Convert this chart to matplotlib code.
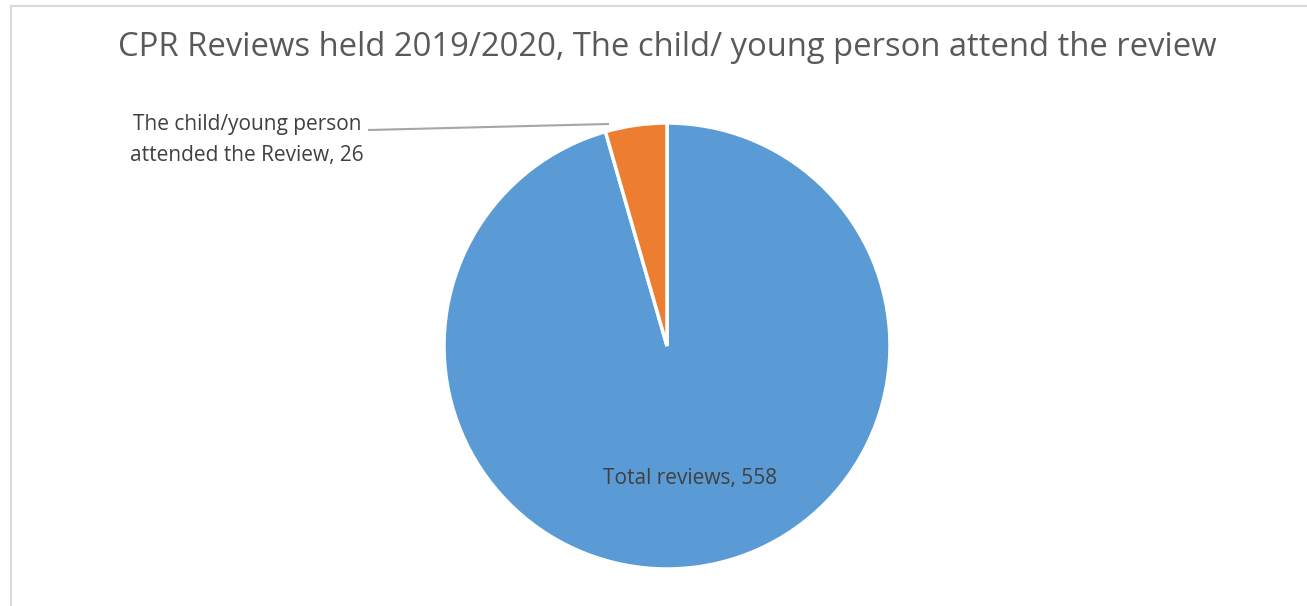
import numpy as np
import matplotlib.pyplot as plt

labels = ['Total reviews', 'The child/young person\nattended the Review']
values = [558, 26]
colors = ['#5B9BD5', '#ED7D31']
title = 'CPR Reviews held 2019/2020, The child/ young person attend the review'

plt.rcParams['font.family'] = ['Open Sans', 'DejaVu Sans']

W, H = 1307, 606
fig = plt.figure(figsize=(W / 100, H / 100), dpi=100)

# chart border: only top and left edges fall inside the picture
fig.add_artist(plt.Line2D([11 / W, 11 / W], [0, 1 - 6 / H], color='#D9D9D9',
                          linewidth=1.5, transform=fig.transFigure))
fig.add_artist(plt.Line2D([11 / W, 1], [1 - 6 / H, 1 - 6 / H], color='#D9D9D9',
                          linewidth=1.5, transform=fig.transFigure))

cx, cy, r = 667, H - 346, 223
ax = fig.add_axes([(cx - r) / W, (cy - r) / H, 2 * r / W, 2 * r / H])
wedges, _ = ax.pie(values, colors=colors, startangle=90, counterclock=False,
                   wedgeprops=dict(edgecolor='white', linewidth=2.5))
ax.set_xlim(-1, 1)
ax.set_ylim(-1, 1)
ax.axis('off')

# label inside the big slice
w = wedges[0]
mid = np.deg2rad((w.theta1 + w.theta2) / 2)
ax.text(0.6 * np.cos(mid) + 0.02, 0.6 * np.sin(mid), f'{labels[0]}, {values[0]}',
        ha='center', va='center', fontsize=15, color='#404040')

# label for the small slice, with leader line
fig.text(247 / W, 1 - 140 / H, f'{labels[1]}, {values[1]}', ha='center', va='center',
         fontsize=15, color='#404040', linespacing=1.65)
fig.add_artist(plt.Line2D([369 / W, 608 / W], [1 - 130 / H, 1 - 124 / H],
                          color='#A6A6A6', linewidth=1.5, transform=fig.transFigure))

fig.text(cx / W, 1 - 47 / H, title, ha='center', va='center', fontsize=23.6, color='#595959')

fig.savefig('out.png', dpi=100, facecolor='white')
